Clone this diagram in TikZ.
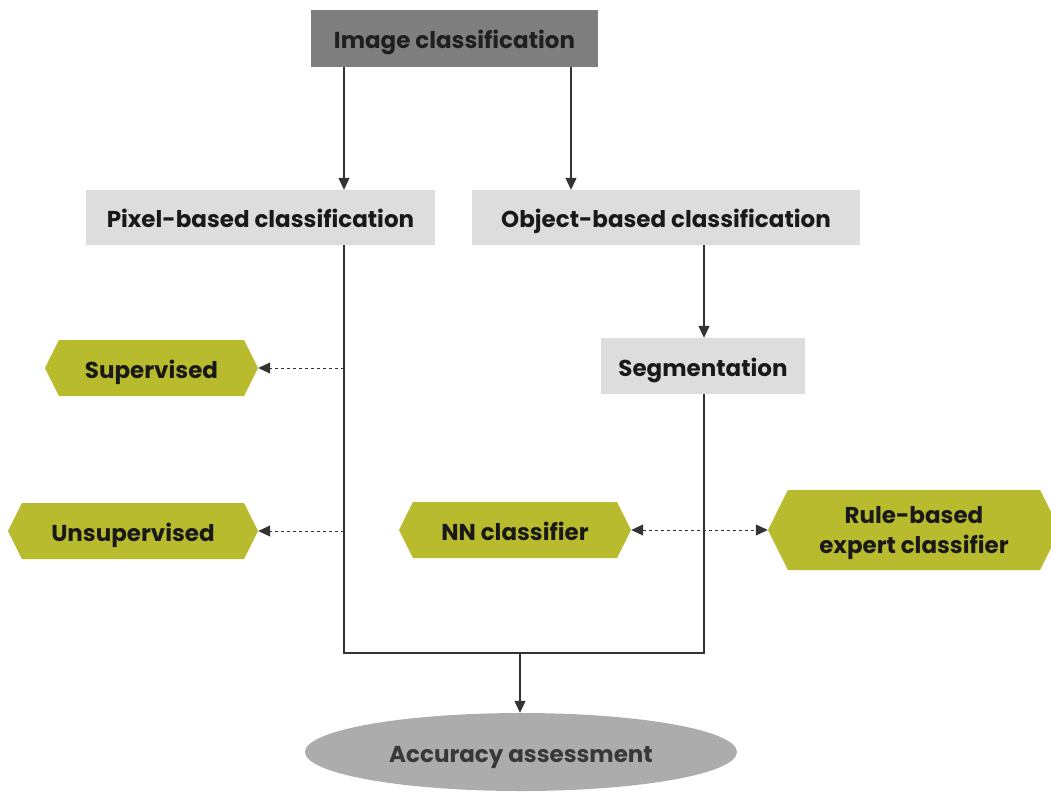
\documentclass[tikz,border=0pt]{standalone}
\usepackage{fontspec}
\setmainfont{Poppins}
\usetikzlibrary{shapes.symbols,shapes.geometric,arrows.meta}
\definecolor{olive}{HTML}{B9BB2F}
\definecolor{lightbox}{HTML}{DDDDDD}
\definecolor{darkbox}{HTML}{7F7F7F}
\definecolor{linec}{HTML}{333333}
\begin{document}
\begin{tikzpicture}[x=1pt,y=-1pt,
  txt/.style={font=\bfseries\fontsize{23}{30}\selectfont, text=black!90, inner sep=0pt, align=center},
  oneline/.style={text height=20pt, text depth=0pt},
  graybox/.style={txt, oneline, rectangle, fill=lightbox, draw=none},
  topbox/.style={txt, oneline, rectangle, fill=darkbox, draw=none, text=black!88},
  hexbase/.style={txt, signal, signal to=west and east, signal pointer angle=127, fill=olive, draw=none},
  hexa/.style={hexbase, oneline},
  conn/.style={draw=linec, line width=1.2pt},
  arr/.style={conn, -{Triangle[length=12pt,width=11pt]}},
  darr/.style={conn, line width=1pt, dash pattern=on 3.5pt off 2.5pt, -{Triangle[length=12pt,width=11pt]}},
  ddarr/.style={darr, {Triangle[length=12pt,width=11pt]}-{Triangle[length=12pt,width=11pt]}}
]
\useasboundingbox (0,0) rectangle (1051,796);

\node[topbox, minimum width=287pt, minimum height=57pt] (img) at (454.5,38.5) {Image classification};
\node[graybox, minimum width=349pt, minimum height=55pt] (pix) at (260.5,217.5) {Pixel-based classification};
\node[graybox, minimum width=388pt, minimum height=55pt] (obj) at (666,217.5) {Object-based classification};
\node[graybox, minimum width=204pt, minimum height=56pt] (seg) at (703,366) {Segmentation};

\node[hexa, minimum width=213pt, minimum height=56pt] (sup) at (151.5,368) {Supervised};
\node[hexa, minimum width=250pt, minimum height=56pt] (unsup) at (133,531) {Unsupervised};
\node[hexa, minimum width=232pt, minimum height=56pt] (nn) at (515,530) {NN classifier};
\node[hexbase, minimum width=292pt, minimum height=80pt] (rule) at (914,530) {\parbox{250pt}{\vspace*{6pt}\centering Rule-based\\expert classifier}};

\node[ellipse, fill=gray!72, fill opacity=0.9, text opacity=1, minimum width=432pt, minimum height=78pt, inner sep=0pt,
      oneline, font=\bfseries\fontsize{23}{30}\selectfont, text=black!78] (acc) at (521,752) {Accuracy assessment};

% coordinates on the lines
\coordinate (xl) at (344,0);
\coordinate (xr) at (571,0);
\coordinate (xs) at (704,0);
\coordinate (jl) at (344,653);
\coordinate (jr) at (704,653);
\coordinate (jm) at (520,653);

\draw[arr] (img.south -| xl) -- (pix.north -| xl);
\draw[arr] (img.south -| xr) -- (obj.north -| xr);
\draw[arr] (obj.south -| xs) -- (seg.north -| xs);
\draw[conn] (pix.south -| xl) -- (jl) -- (jr) -- (seg.south -| xs);
\draw[arr] (jm) -- (acc.north -| jm);

\coordinate (ls) at (344,368);
\coordinate (lu) at (344,531);
\draw[darr] (ls) -- (sup.east);
\draw[darr] (lu) -- (unsup.east);
\draw[ddarr] (nn.east) -- (rule.west);
\end{tikzpicture}
\end{document}
